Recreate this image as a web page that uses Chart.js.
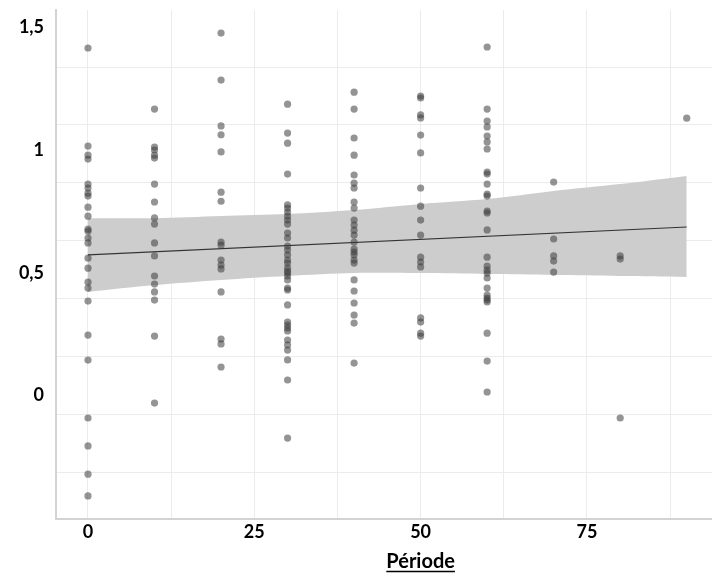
<!DOCTYPE html>
<html>
<head>
<meta charset="utf-8">
<script src="https://cdn.jsdelivr.net/npm/chart.js@4/dist/chart.umd.min.js"></script>
<style>
html,body{margin:0;padding:0;background:#fff;}
#wrap{width:712px;height:576px;position:relative;}
</style>
</head>
<body>
<div id="wrap"><canvas id="c" width="712" height="576"></canvas></div>
<script>
// ---- data ----
const periods = [0, 10, 20, 30, 40, 50, 60, 70, 80, 90];
const p0  = [1.417,1.017,0.980,0.964,0.862,0.846,0.825,0.813,0.768,0.731,0.678,0.670,0.642,0.622,0.560,0.519,0.462,0.438,0.385,0.246,0.144,-0.092,-0.206,-0.321,-0.410];
const p10 = [1.168,1.013,1.001,0.980,0.968,0.862,0.789,0.724,0.699,0.622,0.569,0.487,0.454,0.422,0.389,0.242,-0.031];
const p20 = [1.478,1.286,1.099,1.063,0.993,0.829,0.792,0.625,0.613,0.552,0.532,0.516,0.422,0.230,0.210,0.116];
const p30 = [1.188,1.070,1.029,0.903,0.777,0.764,0.748,0.731,0.715,0.699,0.662,0.642,0.609,0.593,0.573,0.552,0.540,0.520,0.507,0.499,0.487,0.471,0.438,0.430,0.369,0.299,0.287,0.275,0.263,0.226,0.206,0.185,0.145,0.063,-0.174];
const p40 = [1.237,1.168,1.050,0.980,0.899,0.866,0.846,0.789,0.764,0.715,0.695,0.674,0.654,0.625,0.597,0.585,0.573,0.552,0.540,0.471,0.426,0.377,0.328,0.295,0.132];
const p50 = [1.221,1.213,1.144,1.132,1.062,0.989,0.846,0.772,0.715,0.654,0.564,0.544,0.524,0.316,0.299,0.254,0.242];
const p60 = [1.421,1.168,1.119,1.095,1.058,1.034,1.005,0.911,0.903,0.862,0.821,0.813,0.752,0.744,0.675,0.564,0.527,0.511,0.499,0.479,0.438,0.409,0.397,0.389,0.381,0.254,0.140,0.014];
const p70 = [0.870,0.638,0.569,0.548,0.503];
const p80 = [0.569,0.556,-0.092];
const p90 = [1.131];
const columns = [p0, p10, p20, p30, p40, p50, p60, p70, p80, p90];

const fitX = [0, 90];
const fitY = [0.573, 0.687];

const bandX     = [0, 10, 20, 30, 40, 50, 60, 70, 80, 90];
const bandUpper = [0.723,0.723,0.732,0.740,0.756,0.781,0.801,0.834,0.862,0.895];
const bandLower = [0.422,0.450,0.471,0.487,0.499,0.499,0.495,0.491,0.487,0.483];

const yTickValues = [0, 0.5, 1, 1.5];
const xTickValues = [0, 25, 50, 75];
const xAxisTitle = 'Période';

// ---- build library data ----
const scatterPts = [];
periods.forEach((p, i) => columns[i].forEach(v => scatterPts.push({x: p, y: v})));
const fitPts = fitX.map((x, i) => ({x, y: fitY[i]}));
const upPts = bandX.map((x, i) => ({x, y: bandUpper[i]}));
const loPts = bandX.map((x, i) => ({x, y: bandLower[i]}));

// axis ranges / grid spacing (styling of the reference frame)
const Y_MIN = -0.504, Y_MAX = 1.572;
const X_MIN = -4.81, X_MAX = 93.8;
const GRID_START = -0.316, GRID_STEP = 0.2365;
const X_GRID_STEP = 12.5;

const tickFont = {family: 'Lato, "Open Sans", sans-serif', size: 18, weight: 'bold'};

const titlePlugin = {
  id: 'underlinedTitle',
  afterDraw(chart) {
    const ctx = chart.ctx;
    const xs = chart.scales.x;
    const cx = xs.getPixelForValue(50);
    const y = 568;
    ctx.save();
    ctx.font = 'bold 20px Lato, "Open Sans", sans-serif';
    ctx.fillStyle = '#000';
    ctx.textAlign = 'center';
    ctx.textBaseline = 'alphabetic';
    ctx.fillText(xAxisTitle, cx, y);
    const w = ctx.measureText(xAxisTitle).width;
    ctx.strokeStyle = '#000';
    ctx.lineWidth = 1.5;
    ctx.beginPath();
    ctx.moveTo(cx - w / 2, y + 3.5);
    ctx.lineTo(cx + w / 2, y + 3.5);
    ctx.stroke();
    ctx.restore();
  }
};

const xGridVals = [];
for (let v = 0; v < X_MAX; v += X_GRID_STEP) xGridVals.push(v);
const yGridVals = [];
for (let v = GRID_START; v < Y_MAX; v += GRID_STEP) yGridVals.push(+v.toFixed(4));

new Chart(document.getElementById('c'), {
  type: 'scatter',
  data: {
    datasets: [
      {
        label: 'obs',
        data: scatterPts,
        backgroundColor: 'rgba(60,60,60,0.55)',
        borderWidth: 0,
        pointRadius: 3.6,
        pointHoverRadius: 3.6
      },
      {
        label: 'fit',
        type: 'line',
        data: fitPts,
        borderColor: '#333',
        borderWidth: 1.2,
        pointRadius: 0,
        fill: false
      },
      {
        label: 'lower',
        type: 'line',
        data: loPts,
        borderWidth: 0,
        borderColor: 'rgba(0,0,0,0)',
        pointRadius: 0,
        fill: false,
        tension: 0.3
      },
      {
        label: 'upper',
        type: 'line',
        data: upPts,
        borderWidth: 0,
        borderColor: 'rgba(0,0,0,0)',
        backgroundColor: '#cdcdcd',
        pointRadius: 0,
        fill: '-1',
        tension: 0.3
      }
    ]
  },
  options: {
    responsive: false,
    animation: false,
    devicePixelRatio: 1,
    layout: {autoPadding: false, padding: {top: 10, right: 0, left: 0, bottom: 0}},
    plugins: {legend: {display: false}, tooltip: {enabled: false}},
    scales: {
      x: {
        type: 'linear',
        min: X_MIN, max: X_MAX,
        afterBuildTicks: (s) => { s.ticks = xGridVals.map(v => ({value: v})); },
        afterFit: (s) => { s.height = 57; s.paddingLeft = 0; s.paddingRight = 0; },
        ticks: {
          autoSkip: false,
          maxRotation: 0,
          padding: 2,
          color: '#000',
          font: tickFont,
          callback: (v) => xTickValues.includes(v) ? String(v) : ''
        },
        grid: {color: '#ececec', lineWidth: 1, drawTicks: false},
        border: {display: true, color: '#d3d3d3', width: 2}
      },
      y: {
        type: 'linear',
        position: 'left',
        min: Y_MIN, max: Y_MAX,
        afterBuildTicks: (s) => { s.ticks = yTickValues.map(v => ({value: v})); },
        afterFit: (s) => { s.width = 56; s.paddingTop = 0; s.paddingBottom = 0; },
        ticks: {
          autoSkip: false,
          padding: 12,
          color: '#000',
          font: tickFont,
          callback: (v) => String(v).replace('.', ',')
        },
        grid: {display: false, drawTicks: false},
        border: {display: true, color: '#d3d3d3', width: 2}
      },
      yg: {
        type: 'linear',
        position: 'left',
        min: Y_MIN, max: Y_MAX,
        afterBuildTicks: (s) => { s.ticks = yGridVals.map(v => ({value: v})); },
        afterFit: (s) => { s.width = 0; s.paddingTop = 0; s.paddingBottom = 0; },
        ticks: {display: false},
        grid: {color: '#ececec', lineWidth: 1, drawTicks: false},
        border: {display: false}
      }
    }
  },
  plugins: [titlePlugin]
});
</script>
</body>
</html>
